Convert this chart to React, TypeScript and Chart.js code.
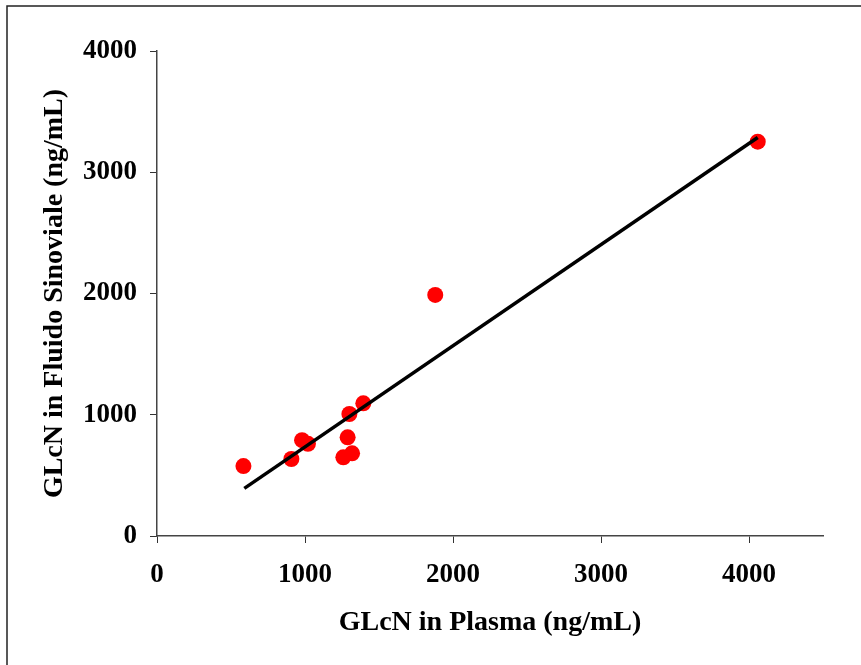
import React, { useEffect, useRef } from "react";
import { Chart, registerables } from "chart.js";

Chart.register(...registerables);

const plasmaValues = [584, 908, 980, 1020, 1300, 1394, 1288, 1259, 1318, 1880, 4059];
const fluidValues = [577, 635, 790, 760, 1006, 1094, 814, 649, 682, 1988, 3252];
const trendX = [590, 4059];
const trendY = [393, 3287];
const xTickValues = [0, 1000, 2000, 3000, 4000];
const xTitle = "GLcN in Plasma (ng/mL)";
const yTitle = "GLcN in Fluido Sinoviale (ng/mL)";

const FONT = "'Liberation Serif', 'Times New Roman', serif";

const framePlugin = {
  id: "frameAndTitles",
  afterDraw(chart: any) {
    const ctx = chart.ctx;
    const area = chart.chartArea;
    ctx.save();
    ctx.strokeStyle = "#222";
    ctx.lineWidth = 1.5;
    ctx.beginPath();
    ctx.moveTo(7, chart.height);
    ctx.lineTo(7, 6);
    ctx.lineTo(chart.width, 6);
    ctx.stroke();

    ctx.fillStyle = "#000";
    ctx.font = `bold 28px ${FONT}`;
    ctx.textAlign = "center";
    ctx.textBaseline = "alphabetic";
    ctx.fillText(xTitle, (area.left + area.right) / 2, 630);

    ctx.translate(62, (area.top + area.bottom) / 2);
    ctx.rotate(-Math.PI / 2);
    ctx.fillText(yTitle, 0, 0);
    ctx.restore();
  },
};

export default function App() {
  const ref = useRef<HTMLCanvasElement | null>(null);
  useEffect(() => {
    if (!ref.current) return;
    const points = plasmaValues.map((x, i) => ({ x, y: fluidValues[i] }));
    const line = trendX.map((x, i) => ({ x, y: trendY[i] }));
    const tickFont = { family: FONT, weight: "bold" as const, size: 27 };
    const chart = new Chart(ref.current, {
      type: "scatter",
      data: {
        datasets: [
          {
            type: "line",
            data: line,
            borderColor: "#000",
            borderWidth: 3.5,
            pointRadius: 0,
            fill: false,
            order: 1,
          } as any,
          {
            data: points,
            backgroundColor: "#ff0000",
            borderWidth: 0,
            pointRadius: 8,
            order: 2,
          },
        ],
      },
      options: {
        animation: false,
        responsive: false,
        maintainAspectRatio: false,
        layout: { padding: { left: 0, top: 51, right: 38, bottom: 0 } },
        plugins: { legend: { display: false }, tooltip: { enabled: false } },
        scales: {
          x: {
            type: "linear",
            min: 0,
            max: 4500,
            afterBuildTicks: (s: any) => {
              s.ticks = xTickValues.map((v) => ({ value: v }));
            },
            afterFit: (s: any) => {
              s.height = 129;
            },
            grid: { drawOnChartArea: false, drawTicks: true, tickLength: 7, color: "#333" },
            border: { display: true, color: "#444", width: 1.5 },
            ticks: {
              autoSkip: false,
              font: tickFont,
              color: "#000",
              padding: 16,
              maxRotation: 0,
              callback: (v: any) => String(v),
            },
          },
          y: {
            type: "linear",
            min: 0,
            max: 4000,
            afterFit: (s: any) => {
              s.width = 157;
            },
            grid: { drawOnChartArea: false, drawTicks: true, tickLength: 7, color: "#333" },
            border: { display: true, color: "#444", width: 1.5 },
            ticks: {
              stepSize: 1000,
              font: tickFont,
              color: "#000",
              padding: 13,
              callback: (v: any) => String(v),
            },
          },
        },
      },
      plugins: [framePlugin],
    });
    return () => chart.destroy();
  }, []);
  return (
    <div style={{ position: "fixed", left: 0, top: 0, width: 861, height: 665, background: "#fff" }}>
      <canvas ref={ref} width={861} height={665} style={{ width: 861, height: 665 }} />
    </div>
  );
}
